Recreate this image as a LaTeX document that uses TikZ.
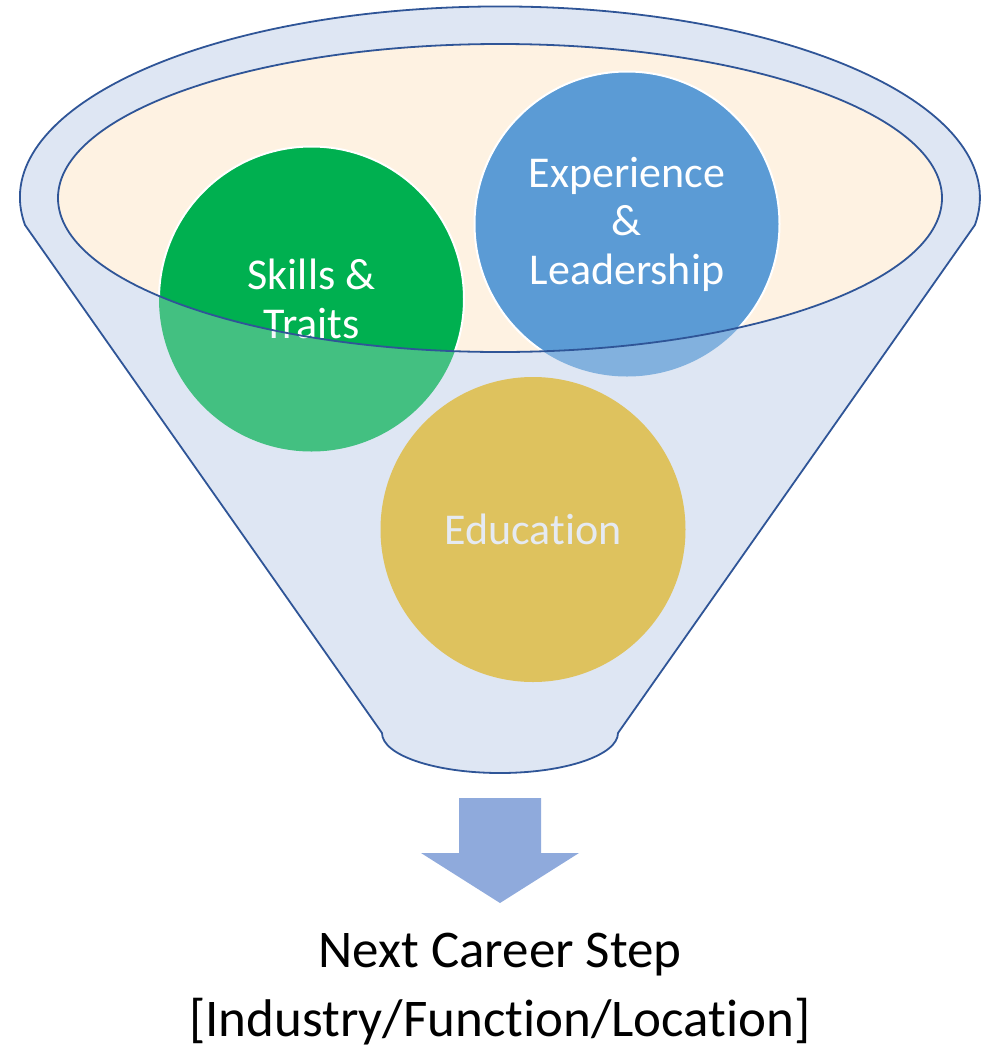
\documentclass[tikz,border=0pt]{standalone}
\usepackage{fontspec}
\setmainfont[Ligatures=NoCommon]{Carlito}
\definecolor{funnelfill}{RGB}{222,230,243}
\definecolor{funnelline}{HTML}{2F5597}
\definecolor{mouthfill}{RGB}{254,242,226}
\definecolor{skillgreen}{HTML}{00B050}
\definecolor{expblue}{HTML}{5B9BD5}
\definecolor{eduyellow}{RGB}{223,179,30}
\definecolor{edutext}{RGB}{233,236,242}
\definecolor{arrowblue}{HTML}{8FAADC}
\begin{document}
\begin{tikzpicture}
		[	x=1pt,y=1pt,
		bubble/.style={circle,inner sep=0pt,minimum size=305pt,text=white,align=center,font=\fontsize{44}{48.5}\selectfont},
		caption/.style={anchor=base,font=\fontsize{53}{60}\selectfont},
		rim/.style={draw=funnelline,line width=1.8pt}
		]
		\useasboundingbox (0,0) rectangle (987,-1050);
		\def\funnelpath{(25,-225) arc[start angle=188.3,end angle=-8.3,x radius=480,y radius=191] -- (618,-733) arc[start angle=0,end angle=-180,x radius=118,y radius=40] -- cycle}
		\def\mouthpath{(500,-198) ellipse[x radius=442,y radius=154]}

		\fill[funnelfill] \funnelpath;
		\fill[mouthfill] \mouthpath;

		\node[bubble,fill=skillgreen] (skills) at (311.5,-299) {Skills \&\\Traits};
		\node[bubble,fill=expblue] (experience) at (627,-224) {Experience\\\&\\Leadership};
		\node[bubble,fill=eduyellow,text=edutext] (education) at (533,-529.5) {Education};

		\begin{scope}
			\clip \mouthpath;
			\foreach \b in {skills,experience}
				\draw[white,line width=2pt] (\b) circle[radius=152.5];
		\end{scope}

		\fill[funnelfill,fill opacity=0.3,even odd rule] \funnelpath \mouthpath;
		\draw[rim] \funnelpath;
		\draw[rim] \mouthpath;

		\fill[arrowblue] (459,-798) -- (541,-798) -- (541,-853) -- (579,-853) -- (500,-903) -- (421,-853) -- (459,-853) -- cycle;

\node[caption] (nextstep) at (500,-967) {Next Career Step};
\node[caption] (target) at (500,-1036) {[Industry/Function/Location]};
	\end{tikzpicture}
\end{document}
